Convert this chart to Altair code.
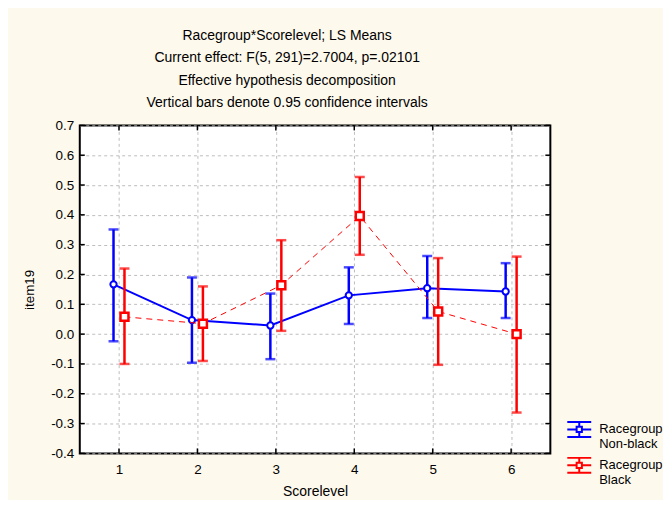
import altair as alt
import pandas as pd

# ---- data ----
score_levels = [1, 2, 3, 4, 5, 6]
nonblack_mean = [0.167, 0.047, 0.029, 0.130, 0.154, 0.143]
nonblack_lo = [-0.024, -0.096, -0.084, 0.034, 0.054, 0.054]
nonblack_hi = [0.351, 0.190, 0.136, 0.224, 0.262, 0.238]
black_mean = [0.058, 0.035, 0.164, 0.396, 0.076, 0.000]
black_lo = [-0.100, -0.090, 0.011, 0.266, -0.103, -0.263]
black_hi = [0.220, 0.160, 0.315, 0.527, 0.255, 0.260]
groups = ["Non-black", "Black"]
y_ticks = [-0.4, -0.3, -0.2, -0.1, 0.0, 0.1, 0.2, 0.3, 0.4, 0.5, 0.6, 0.7]
x_ticks = [1, 2, 3, 4, 5, 6]
title_lines = [
    "Racegroup*Scorelevel; LS Means",
    "Current effect: F(5, 291)=2.7004, p=.02101",
    "Effective hypothesis decomposition",
    "Vertical bars denote 0.95 confidence intervals",
]

W, H = 472, 329
FONT = "Liberation Sans"
BLUE, RED = "#0000ff", "#ff0000"

nb = pd.DataFrame({"score": score_levels, "mean": nonblack_mean, "lo": nonblack_lo,
                   "hi": nonblack_hi, "group": groups[0]})
bl = pd.DataFrame({"score": score_levels, "mean": black_mean, "lo": black_lo,
                   "hi": black_hi, "group": groups[1]})
both = pd.concat([nb, bl], ignore_index=True)
ytick_df = pd.DataFrame({"score": [3.5] * len(y_ticks), "mean": y_ticks})
xtick_df = pd.DataFrame({"score": x_ticks, "mean": [0.0] * len(x_ticks)})

xscale = alt.Scale(domain=[0.5, 6.5], nice=False, zero=False)
yscale = alt.Scale(domain=[-0.4, 0.7], nice=False, zero=False)


def X(field="score"):
    return alt.X(f"{field}:Q", scale=xscale, title="Scorelevel",
                 axis=alt.Axis(values=x_ticks, format="d", ticks=False, domain=False,
                               labelPadding=9, titlePadding=9, grid=True,
                               titleFontWeight="normal", titleFont=FONT, titleFontSize=14))


def Y(field="mean"):
    return alt.Y(f"{field}:Q", scale=yscale, title="item19",
                 axis=alt.Axis(values=y_ticks, format=".1f", ticks=False, domain=False,
                               labelPadding=6, titlePadding=14, grid=True,
                               titleFontWeight="normal", titleFont=FONT, titleFontSize=13.5,
                               labelExpr="replace(datum.label, '\u2212', '-')"))


def series(df, color, off, line_kwargs, point_kwargs):
    base = alt.Chart(df)
    line = base.mark_line(color=color, xOffset=off, **line_kwargs).encode(x=X(), y=Y())
    bar = base.mark_rule(color=color, strokeWidth=2.5, xOffset=off).encode(
        x=X(), y=Y("lo"), y2="hi:Q")
    cap_lo = base.mark_tick(color=color, orient="horizontal", size=10, thickness=2.5,
                            xOffset=off).encode(x=X(), y=Y("lo"))
    cap_hi = base.mark_tick(color=color, orient="horizontal", size=10, thickness=2.5,
                            xOffset=off).encode(x=X(), y=Y("hi"))
    pts = base.mark_point(stroke=color, fill="white", filled=True, opacity=1,
                          xOffset=off, **point_kwargs).encode(x=X(), y=Y())
    return [line, bar, cap_lo, cap_hi, pts]


blue_layers = series(nb, BLUE, -5.5, {"strokeWidth": 2},
                     {"shape": "circle", "size": 40, "strokeWidth": 2})
red_layers = series(bl, RED, 5.5, {"strokeWidth": 1, "strokeDash": [6, 5]},
                    {"shape": "square", "size": 64, "strokeWidth": 2.5})

LEG_PATH = ("M-1,-0.625H1M-1,0.625H1M-1,0H-0.22M0.22,0H1M0,-0.625V-0.22M0,0.22V0.625"
            "M-0.22,-0.22H0.22V0.22H-0.22Z")
legend_layer = alt.Chart(both).mark_point(opacity=0, filled=False).encode(
    x=X(), y=Y(),
    color=alt.Color("group:N",
                    scale=alt.Scale(domain=groups, range=[BLUE, RED]),
                    legend=alt.Legend(orient="none", legendX=488, legendY=292, title=None,
                                      symbolType=LEG_PATH, symbolSize=576,
                                      symbolStrokeWidth=2, symbolOpacity=1,
                                      labelExpr="['Racegroup', datum.label]",
                                      labelFont=FONT, labelFontSize=13, labelColor="black",
                                      labelBaseline="middle",
                                      labelOffset=7, rowPadding=1, padding=0)),
)

tick_style = dict(color="black", strokeWidth=1.5)
t_left = alt.Chart(ytick_df).mark_rule(**tick_style).encode(
    y=Y(), x=alt.value(0), x2=alt.value(5))
t_right = alt.Chart(ytick_df).mark_rule(**tick_style).encode(
    y=Y(), x=alt.value(W - 5), x2=alt.value(W))
t_top = alt.Chart(xtick_df).mark_rule(**tick_style).encode(
    x=X(), y=alt.value(0), y2=alt.value(5))
t_bot = alt.Chart(xtick_df).mark_rule(**tick_style).encode(
    x=X(), y=alt.value(H - 5), y2=alt.value(H))

chart = alt.layer(
    t_left, t_right, t_top, t_bot, *blue_layers, *red_layers, legend_layer
).properties(
    width=W, height=H,
    background="#fef9ed",
    padding={"left": 14, "top": 20, "right": 0, "bottom": 0},
    title=alt.TitleParams(text=title_lines, font=FONT, fontSize=14, fontWeight="normal",
                          color="black", lineHeight=22.6, anchor="middle", dx=-28,
                          offset=8),
).configure_view(
    stroke="black", strokeWidth=2, fill="white"
).configure_axis(
    labelFont=FONT, labelFontSize=13.5, labelColor="black",
    titleFont=FONT, titleFontSize=14, titleColor="black", titleFontWeight="normal",
    gridColor="#bdbdbd", gridDash=[3, 3], gridWidth=1,
)

chart.save("out.html", embed_options={"renderer": "svg", "actions": False})
